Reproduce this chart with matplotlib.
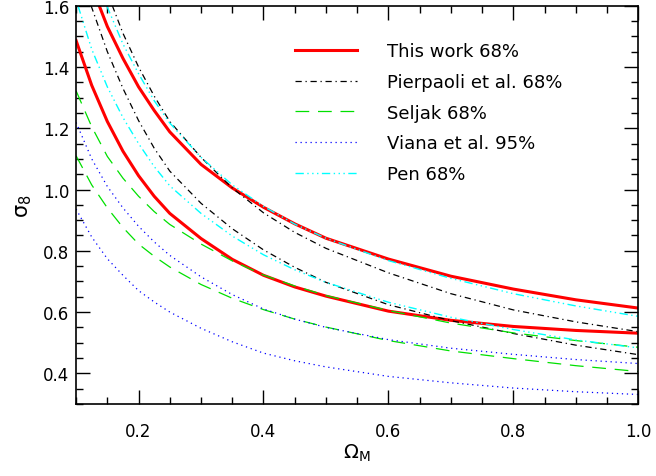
import matplotlib
matplotlib.use("Agg")
import matplotlib.pyplot as plt

# values (omega_m, sigma_8); the first point of some
# curves is where they leave the top of the frame
om = [0.1, 0.125, 0.15, 0.175, 0.2, 0.225, 0.25, 0.3, 0.35, 0.4, 0.45, 0.5, 0.6, 0.7, 0.8, 0.9, 1.0]

this_hi_x = [0.137, 0.15, 0.175, 0.2, 0.225, 0.25, 0.3, 0.35, 0.4, 0.45, 0.5, 0.6, 0.7, 0.8, 0.9, 1.0]
this_hi_y = [1.6, 1.532, 1.428, 1.335, 1.258, 1.188, 1.082, 1.005, 0.942, 0.888, 0.841, 0.773, 0.717, 0.675, 0.64, 0.613]
this_lo_y = [1.486, 1.34, 1.222, 1.125, 1.045, 0.978, 0.922, 0.84, 0.772, 0.72, 0.682, 0.652, 0.603, 0.573, 0.553, 0.54, 0.531]

pier_hi_x = [0.158, 0.175, 0.2, 0.225, 0.25, 0.3, 0.35, 0.4, 0.45, 0.5, 0.6, 0.7, 0.8, 0.9, 1.0]
pier_hi_y = [1.6, 1.51, 1.40, 1.305, 1.222, 1.105, 1.005, 0.924, 0.86, 0.808, 0.728, 0.66, 0.607, 0.568, 0.536]
pier_lo_x = [0.124, 0.15, 0.175, 0.2, 0.225, 0.25, 0.3, 0.35, 0.4, 0.45, 0.5, 0.6, 0.7, 0.8, 0.9, 1.0]
pier_lo_y = [1.6, 1.45, 1.33, 1.225, 1.135, 1.06, 0.955, 0.872, 0.803, 0.746, 0.697, 0.624, 0.572, 0.53, 0.492, 0.461]

selj_hi = [1.322, 1.205, 1.108, 1.037, 0.978, 0.928, 0.886, 0.822, 0.767, 0.721, 0.685, 0.654, 0.605, 0.564, 0.532, 0.507, 0.485]
selj_lo = [1.11, 1.015, 0.94, 0.876, 0.822, 0.782, 0.747, 0.69, 0.645, 0.608, 0.577, 0.551, 0.507, 0.473, 0.448, 0.425, 0.406]
viana_hi = [1.219, 1.10, 1.01, 0.94, 0.88, 0.829, 0.785, 0.715, 0.657, 0.61, 0.577, 0.55, 0.51, 0.482, 0.462, 0.445, 0.432]
viana_lo = [0.936, 0.845, 0.774, 0.72, 0.67, 0.633, 0.6, 0.547, 0.503, 0.466, 0.441, 0.421, 0.39, 0.369, 0.352, 0.34, 0.331]

pen_hi_x = [0.149, 0.175, 0.2, 0.225, 0.25, 0.3, 0.35, 0.4, 0.45, 0.5, 0.6, 0.7, 0.8, 0.9, 1.0]
pen_hi_y = [1.6, 1.475, 1.378, 1.29, 1.217, 1.105, 1.015, 0.945, 0.887, 0.841, 0.768, 0.71, 0.66, 0.62, 0.586]
pen_lo_x = [0.103, 0.125, 0.15, 0.175, 0.2, 0.225, 0.25, 0.3, 0.35, 0.4, 0.45, 0.5, 0.6, 0.7, 0.8, 0.9, 1.0]
pen_lo_y = [1.6, 1.458, 1.335, 1.235, 1.15, 1.075, 1.012, 0.922, 0.848, 0.787, 0.738, 0.697, 0.632, 0.583, 0.543, 0.509, 0.483]

labels = ["This work 68%", "Pierpaoli et al. 68%", "Seljak 68%", "Viana et al. 95%", "Pen 68%"]

fig = plt.figure(figsize=(6.56, 4.77), dpi=100)
ax = fig.add_axes([0.116, 0.151, 0.857, 0.835])

red = dict(color="#ff0000", lw=2.2, ls="-")
blk = dict(color="black", lw=0.9, dashes=(5, 3, 1, 3))
grn = dict(color="#00e000", lw=0.9, dashes=(11, 7))
blu = dict(color="#0000ff", lw=0.9, dashes=(1, 3))
cyn = dict(color="#00ffff", lw=1.0, dashes=(6, 2.5, 1, 2.5, 1, 2.5, 1, 2.5))

ax.plot(this_hi_x, this_hi_y, label=labels[0], **red)
ax.plot(om, this_lo_y, **red)
ax.plot(pier_hi_x, pier_hi_y, label=labels[1], **blk)
ax.plot(pier_lo_x, pier_lo_y, **blk)
ax.plot(om, selj_hi, label=labels[2], **grn)
ax.plot(om, selj_lo, **grn)
ax.plot(om, viana_hi, label=labels[3], **blu)
ax.plot(om, viana_lo, **blu)
ax.plot(pen_hi_x, pen_hi_y, label=labels[4], **cyn)
ax.plot(pen_lo_x, pen_lo_y, **cyn)

ax.set_xlim(0.1, 1.0)
ax.set_ylim(0.3, 1.6)
ax.set_xticks([0.2, 0.4, 0.6, 0.8, 1.0])
ax.set_yticks([0.4, 0.6, 0.8, 1.0, 1.2, 1.4, 1.6])
ax.set_xticks([i * 0.05 for i in range(2, 21)], minor=True)
ax.set_yticks([0.3 + i * 0.05 for i in range(27)], minor=True)
ax.tick_params(which="both", direction="in", top=True, right=True, labelsize=12, width=1)
ax.tick_params(which="major", length=10)
ax.tick_params(which="minor", length=5)
ax.tick_params(axis="x", which="major", pad=13)
ax.tick_params(axis="y", which="major", pad=5)
for s in ax.spines.values():
    s.set_linewidth(1.2)

ax.set_xlabel(r"$\mathrm{\Omega_M}$", fontsize=14, labelpad=1)
ax.set_ylabel(r"$\mathrm{\sigma_8}$", fontsize=15, labelpad=6)

ax.legend(loc="upper left", bbox_to_anchor=(0.39, 0.908), frameon=False, fontsize=13,
          handlelength=3.4, handletextpad=1.7, labelspacing=0.7, borderpad=0, borderaxespad=0)

fig.savefig("out.png", dpi=100)
